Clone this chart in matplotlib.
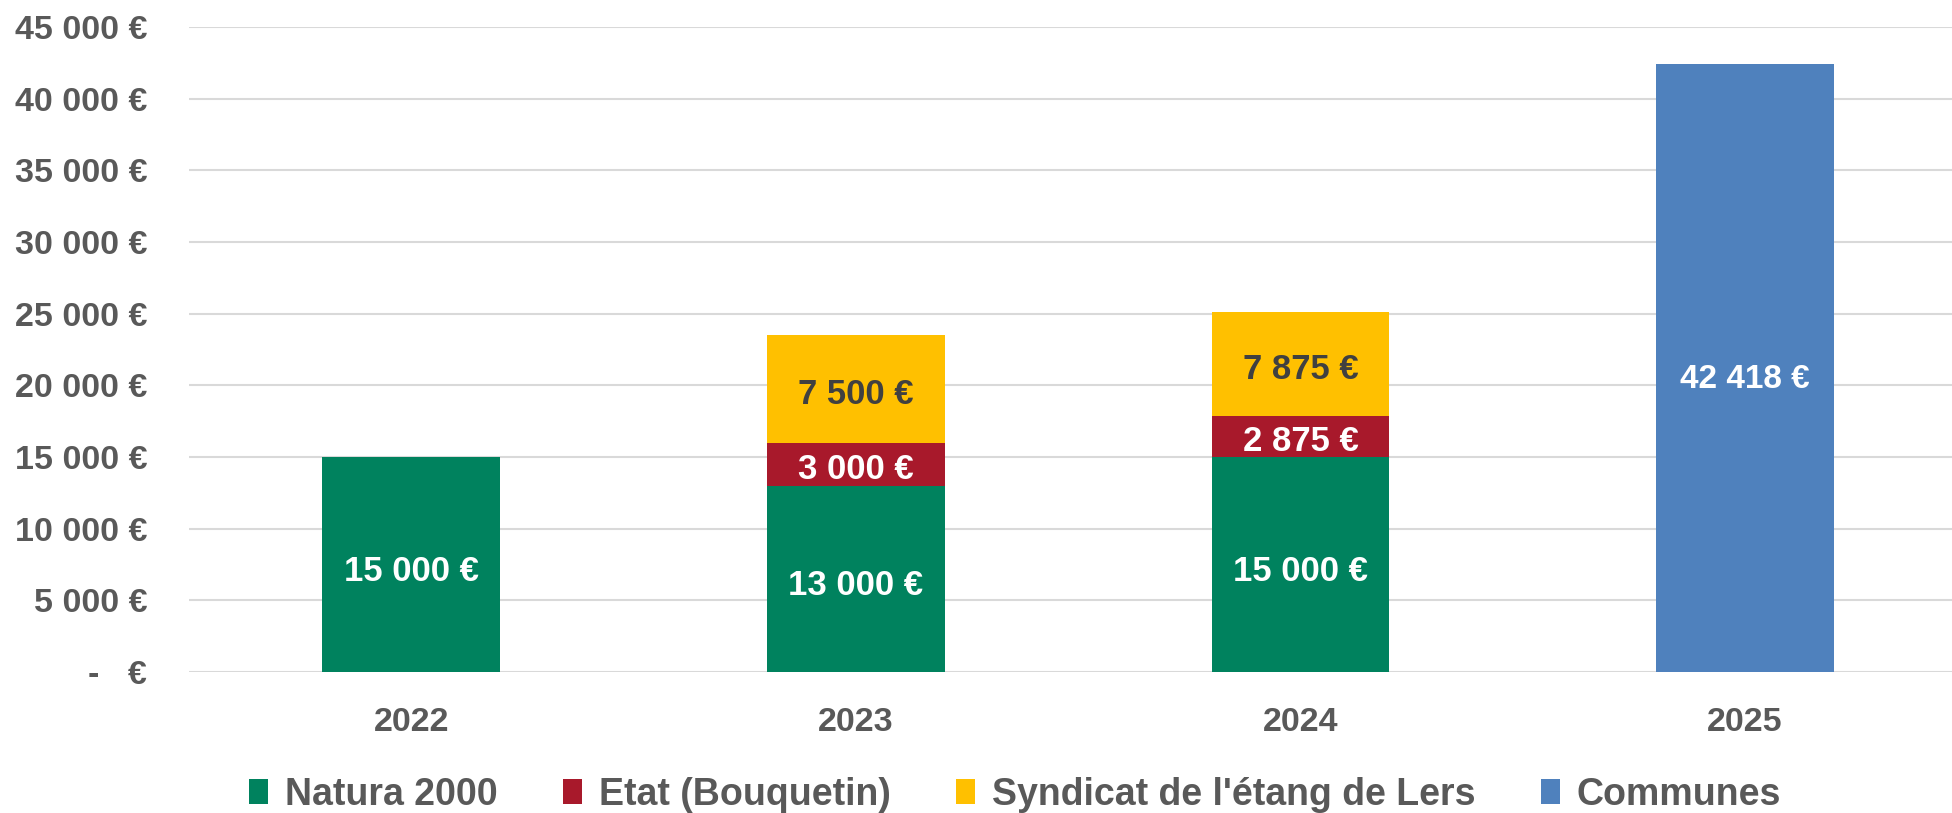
import matplotlib
matplotlib.use("Agg")
import matplotlib.pyplot as plt
from matplotlib.patches import Patch
import numpy as np

years = ["2022", "2023", "2024", "2025"]
series = ["Natura 2000", "Etat (Bouquetin)", "Syndicat de l'étang de Lers", "Communes"]
# bar heights as drawn in the picture
natura = [15000, 13000, 15000, 0]
etat = [0, 3000, 2875, 0]
syndicat = [0, 7500, 7250, 0]
communes = [0, 0, 0, 42418]
# labels as printed on the bars (the 2024 syndicat label differs from its bar)
natura_labels = ["15 000 €", "13 000 €", "15 000 €", ""]
etat_labels = ["", "3 000 €", "2 875 €", ""]
syndicat_labels = ["", "7 500 €", "7 875 €", ""]
communes_labels = ["", "", "", "42 418 €"]
y_ticks = [0, 5000, 10000, 15000, 20000, 25000, 30000, 35000, 40000, 45000]

GREEN = "#00825E"
RED = "#A8192B"
YELLOW = "#FFC000"
BLUE = "#4F81BD"
GRID = "#D9D9D9"
TEXT = "#595959"

FONT = ["Liberation Sans", "DejaVu Sans"]


def euro(v):
    if v == 0:
        return "-   €"
    return f"{v:,.0f}".replace(",", " ") + " €"


fig = plt.figure(figsize=(19.52, 8.13), dpi=100)
ax = fig.add_axes([189 / 1952, 0.1734, 1 - 189 / 1952, 0.9668 - 0.1734])

x = np.arange(len(years))
w = 0.40
colors = [GREEN, RED, YELLOW, BLUE]
layers = [natura, etat, syndicat, communes]
labels = [natura_labels, etat_labels, syndicat_labels, communes_labels]
label_colors = ["white", "white", "#404040", "white"]
label_sizes = [25, 25, 25, 24]
label_drop = [-5, -4, -4, -8]
bottom = np.zeros(len(years))
for vals, labs, col, lc, fs, dy in zip(layers, labels, colors, label_colors,
                                       label_sizes, label_drop):
    vals = np.array(vals, dtype=float)
    ax.bar(x, vals, w, bottom=bottom, color=col, zorder=2)
    for xi, b, v, s in zip(x, bottom, vals, labs):
        if not s:
            continue
        ax.annotate(s, (xi, b + v / 2), xytext=(0, dy), textcoords="offset points",
                    ha="center", va="center", color=lc, fontsize=fs,
                    fontweight="bold", family=FONT, zorder=3)
    bottom += vals

ax.set_xlim(-0.5, (1952 - 411) / 444.7)
ax.set_ylim(0, 45000)
ax.set_yticks(y_ticks)
ax.set_yticklabels([euro(t) for t in y_ticks])
ax.set_xticks(x)
ax.set_xticklabels(years)
for lab in ax.get_yticklabels() + ax.get_xticklabels():
    lab.set_family(FONT)
    lab.set_fontweight("bold")
    lab.set_fontsize(24.5)
    lab.set_color(TEXT)
ax.tick_params(axis="y", length=0, pad=30)
ax.tick_params(axis="x", length=0, pad=25)
ax.yaxis.grid(True, color=GRID, linewidth=1.5, zorder=0)
ax.set_axisbelow(True)
for s in ax.spines.values():
    s.set_visible(False)

handles = [Patch(facecolor=c, edgecolor="none") for c in colors]
leg = fig.legend(handles, series, loc="center", bbox_to_anchor=(0.52, 0.022),
                 ncol=4, frameon=False, handlelength=0.5, handleheight=0.65,
                 handletextpad=0.45, columnspacing=1.75,
                 prop={"family": FONT, "weight": "bold", "size": 27})
for t in leg.get_texts():
    t.set_color(TEXT)

fig.savefig("out.png", dpi=100, facecolor="white")
